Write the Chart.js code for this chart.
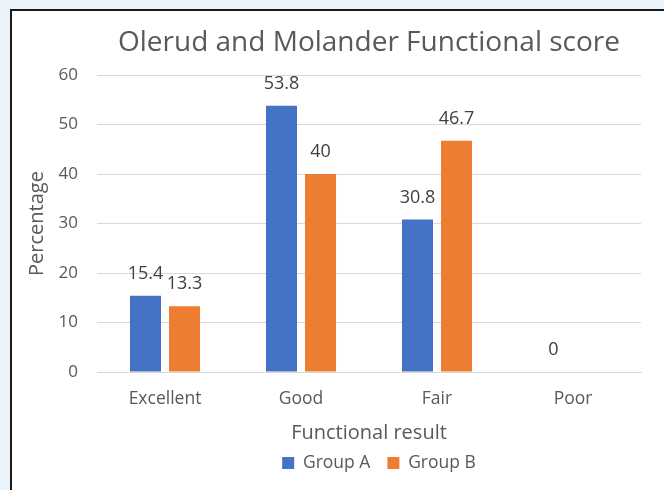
<!DOCTYPE html>
<html>
<head>
<meta charset="utf-8">
<script src="https://cdn.jsdelivr.net/npm/chart.js@4"></script>
<style>
  html, body { margin: 0; padding: 0; background: #EBF4FA; overflow: hidden; }
  #frame {
    position: absolute; left: 10px; top: 9px; width: 700px; height: 520px;
    background: #fff; border-left: 2px solid #1a1a1a; border-top: 2px solid #1a1a1a;
  }
  #chart { position: absolute; left: 0; top: 0; }
</style>
</head>
<body>
<div id="frame"></div>
<canvas id="chart" width="664" height="490"></canvas>
<script>
// dados do gráfico
const categories = ['Excellent', 'Good', 'Fair', 'Poor'];
const groupA = [15.4, 53.8, 30.8, 0];
const groupB = [13.3, 40, 46.7, null];
const yTicks = [0, 10, 20, 30, 40, 50, 60];

const textColor = '#595959';
const fontFamily = '"Open Sans", "DejaVu Sans", sans-serif';

// rótulos de valor acima das barras
const barLabels = {
    id: 'barLabels',
    afterDatasetsDraw(chart) {
        const ctx = chart.ctx;
        ctx.save();
        ctx.font = '18px ' + fontFamily;
        ctx.fillStyle = '#404040';
        ctx.textAlign = 'center';
        ctx.textBaseline = 'middle';
        chart.data.datasets.forEach((ds, i) => {
            chart.getDatasetMeta(i).data.forEach((bar, j) => {
                const v = ds.data[j];
                if (v === null || v === undefined) return;
                ctx.fillText(String(v), bar.x, bar.y - 22);
            });
        });
        ctx.restore();
    }
};

// desloca a legenda um pouco para a direita, como no original
const legendShift = {
    id: 'legendShift',
    afterLayout(chart) {
        if (!chart.legend) return;
        chart.legend.left += 10;
        chart.legend.right += 10;
    }
};

new Chart(document.getElementById('chart').getContext('2d'), {
    type: 'bar',
    data: {
        labels: categories,
        datasets: [
            { label: 'Group A', data: groupA, backgroundColor: '#4472C4' },
            { label: 'Group B', data: groupB, backgroundColor: '#ED7D31' }
        ]
    },
    options: {
        responsive: false,
        animation: false,
        categoryPercentage: 0.574,
        barPercentage: 0.795,
        layout: { padding: { left: 0, right: 23, top: 0, bottom: 8.25 } },
        plugins: {
            title: {
                display: true,
                fullSize: false,
                text: 'Olerud and Molander Functional score',
                color: textColor,
                font: { family: fontFamily, size: 28, weight: 'normal' },
                padding: { top: 26, bottom: 15.4 }
            },
            legend: {
                position: 'bottom',
                fullSize: false,
                labels: {
                    color: textColor,
                    font: { family: fontFamily, size: 17.5 },
                    boxWidth: 12,
                    boxHeight: 12,
                    padding: 17
                }
            },
            tooltip: { enabled: false }
        },
        scales: {
            x: {
                grid: { display: false },
                border: { display: true, color: '#D9D9D9' },
                ticks: { color: textColor, font: { family: fontFamily, size: 17.5 }, padding: 9 },
                title: {
                    display: true,
                    text: 'Functional result',
                    color: textColor,
                    font: { family: fontFamily, size: 20 },
                    padding: { top: 0, bottom: -8 }
                },
                afterFit: (scale) => { scale.height = 65.25; }
            },
            y: {
                min: 0,
                max: 60,
                afterBuildTicks: (scale) => { scale.ticks = yTicks.map(v => ({ value: v })); },
                grid: { color: '#D9D9D9', drawTicks: false },
                border: { display: false },
                ticks: { color: textColor, font: { family: fontFamily, size: 17 }, padding: 19 },
                title: {
                    display: true,
                    text: 'Percentage',
                    color: textColor,
                    font: { family: fontFamily, size: 20 },
                    padding: { top: 25, bottom: 0 }
                },
                afterFit: (scale) => { scale.width = 97; }
            }
        }
    },
    plugins: [barLabels, legendShift]
});
</script>
</body>
</html>
